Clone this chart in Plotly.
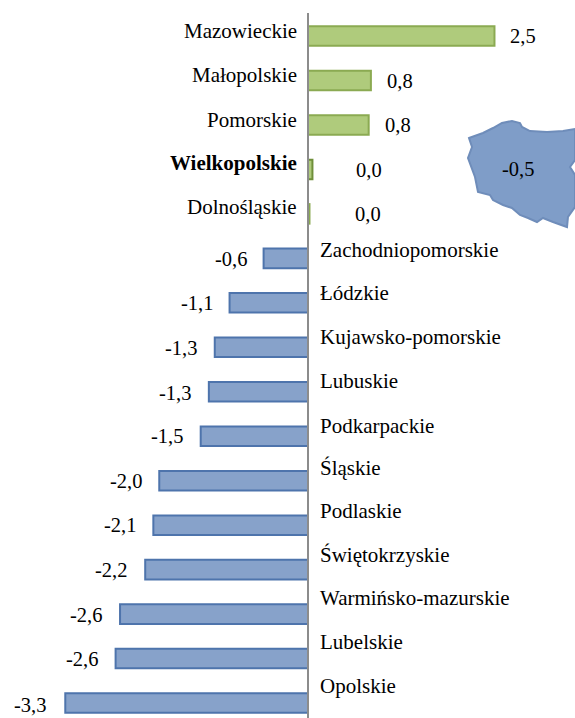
import plotly.graph_objects as go

regions = ["Mazowieckie", "Małopolskie", "Pomorskie", "Wielkopolskie", "Dolnośląskie",
           "Zachodniopomorskie", "Łódzkie", "Kujawsko-pomorskie", "Lubuskie", "Podkarpackie",
           "Śląskie", "Podlaskie", "Świętokrzyskie", "Warmińsko-mazurskie", "Lubelskie", "Opolskie"]
values = [2.52, 0.85, 0.82, 0.06, 0.02, -0.6, -1.06, -1.26, -1.34, -1.45,
          -2.01, -2.09, -2.2, -2.54, -2.6, -3.28]
value_labels = ["2,5", "0,8", "0,8", "0,0", "0,0", "-0,6", "-1,1", "-1,3", "-1,3", "-1,5",
                "-2,0", "-2,1", "-2,2", "-2,6", "-2,6", "-3,3"]
national_label = "-0,5"

# Label nudges in pixels
name_yshift = [5, 5, 5, 6, 7, 8, 10, 10, 11, 10, 13, 14, 15, 16, 17, 17]
value_xgap = [14, 14, 14, 42, 44, 15, 15, 16, 16, 16, 15, 15, 16, 16, 16, 17]
value_yshift = [0, -1, 0, -1, 0, -1, 0, -1, -1, 0, 0, 0, 0, -1, 0, -2]

# Outline of the map decoration, in page pixels
map_x = [469, 483, 493, 502, 512, 520, 522, 530, 547, 563, 575, 575, 570, 575, 575, 568, 567,
         553, 543, 537, 528, 520, 512, 503, 493, 490, 478, 475, 468, 472]
map_y = [138, 133, 128, 123, 121, 123, 127, 131, 132, 131, 129, 160, 167, 175, 207, 217, 227,
         222, 218, 222, 218, 215, 208, 205, 200, 195, 192, 177, 158, 147]

W, H = 575, 718
fig = go.Figure()
for i, (r, v) in enumerate(zip(regions, values)):
    pos = v >= 0
    edge = "#6F8F3A" if r == "Wielkopolskie" else ("#8BAA52" if pos else "#4E74AC")
    fig.add_trace(go.Bar(
        y=[i], x=[v], orientation="h", width=0.44, showlegend=False,
        marker=dict(color="#AFCB7C" if pos else "#87A2CA", line=dict(color=edge, width=2)),
    ))

annotations = []
for i, (r, v, t) in enumerate(zip(regions, values, value_labels)):
    pos = v >= 0
    annotations.append(dict(
        x=0, y=i, xref="x", yref="y", text=f"<b>{r}</b>" if r == "Wielkopolskie" else r,
        showarrow=False, xanchor="right" if pos else "left", yanchor="middle",
        xshift=-9 if pos else 10, yshift=name_yshift[i], font=dict(size=21),
    ))
    annotations.append(dict(
        x=v, y=i, xref="x", yref="y", text=t, showarrow=False,
        xanchor="left" if pos else "right", yanchor="middle",
        xshift=value_xgap[i] if pos else -value_xgap[i], yshift=value_yshift[i], font=dict(size=20.5),
    ))
annotations.append(dict(x=518 / W, y=1 - 169 / H, xref="paper", yref="paper", text=national_label,
                        showarrow=False, xanchor="center", yanchor="middle", font=dict(size=20.5)))

path = "M " + " L ".join(f"{x / W:.4f},{1 - y / H:.4f}" for x, y in zip(map_x, map_y)) + " Z"
shapes = [
    dict(type="line", xref="x", yref="paper", x0=0, x1=0, y0=0, y1=1 - 13 / H,
         line=dict(color="#8C8C8C", width=2), layer="above"),
    dict(type="path", xref="paper", yref="paper", path=path, fillcolor="#7F9DC8",
         line=dict(color="#6F8DBA", width=2), layer="below"),
]

fig.update_layout(
    width=W, height=H, margin=dict(l=0, r=0, t=0, b=0),
    paper_bgcolor="white", plot_bgcolor="white", barmode="overlay",
    font=dict(family="Liberation Serif", color="black", size=18),
    xaxis=dict(range=[-308 / 74, 267 / 74], visible=False, fixedrange=True),
    yaxis=dict(range=[(H - 36) / 44.47, -36 / 44.47], visible=False, fixedrange=True),
    annotations=annotations, shapes=shapes,
)
fig.write_html("out.html", config=dict(displayModeBar=False),
               post_script="document.body.style.margin='0';document.documentElement.style.overflow='hidden';")
